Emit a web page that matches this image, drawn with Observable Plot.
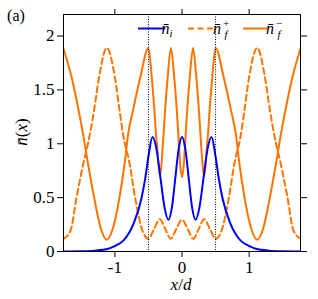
<!DOCTYPE html>
<html><head><meta charset="utf-8">
<script src="https://cdn.jsdelivr.net/npm/d3@7"></script>
<script src="https://cdn.jsdelivr.net/npm/@observablehq/plot@0.6"></script>
<style>html,body{margin:0;padding:0;background:#fff;overflow:hidden}</style>
</head><body><div id="chart"></div>
<script>
// ---- data ----
const xTicks = [-1, 0, 1];
const yTicks = [0, 0.5, 1, 1.5, 2];
const wellEdges = [-0.5, 0.5];

// n̄_i (blue)
const niX = [-1.768,-1.5,-1.3,-1.1,-1.02,-0.94,-0.86,-0.72,-0.605,-0.55,-0.5,-0.44,-0.38,-0.32,-0.26,-0.203,-0.15,-0.10,-0.05,0,
             0.05,0.10,0.15,0.203,0.26,0.32,0.38,0.44,0.5,0.55,0.605,0.72,0.86,0.94,1.02,1.1,1.3,1.5,1.768];
const niY = [0.001,0.003,0.008,0.025,0.045,0.07,0.11,0.26,0.49,0.67,0.88,1.062,0.95,0.68,0.41,0.295,0.41,0.68,0.95,1.062,
             0.95,0.68,0.41,0.295,0.41,0.68,0.95,1.062,0.88,0.67,0.49,0.26,0.11,0.07,0.045,0.025,0.008,0.003,0.001];

// n̄_f^+ (orange dashed)
const fPlusX = [-1.768,-1.66,-1.57,-1.47,-1.375,-1.31,-1.235,-1.12,-1.0,-0.93,-0.875,-0.78,-0.70,-0.59,-0.5,
                -0.415,-0.33,-0.25,-0.168,-0.085,0,0.085,0.168,0.25,0.33,0.415,
                0.5,0.59,0.70,0.78,0.875,0.93,1.0,1.12,1.235,1.31,1.375,1.47,1.57,1.66,1.768];
const fPlusY = [0.118,0.195,0.505,0.815,1.078,1.31,1.619,1.89,1.619,1.31,1.078,0.815,0.505,0.195,0.118,
                0.21,0.30,0.21,0.118,0.21,0.294,0.21,0.118,0.21,0.30,0.21,
                0.118,0.195,0.505,0.815,1.078,1.31,1.619,1.89,1.619,1.31,1.078,0.815,0.505,0.195,0.118];

// n̄_f^- (orange solid)
const fMinusX = [-1.768,-1.645,-1.54,-1.47,-1.40,-1.31,-1.20,-1.12,-1.04,-0.93,-0.855,-0.805,-0.73,-0.62,-0.5,
                 -0.451,-0.411,-0.386,-0.37,-0.352,-0.33,-0.305,-0.276,-0.252,-0.213,-0.165,-0.116,-0.077,-0.054,-0.028,0,
                 0.028,0.054,0.077,0.116,0.165,0.213,0.252,0.276,0.305,0.33,0.352,0.37,0.386,0.411,0.451,
                 0.5,0.62,0.73,0.805,0.855,0.93,1.04,1.12,1.20,1.31,1.40,1.47,1.54,1.645,1.768];
const fMinusY = [1.89,1.619,1.31,1.078,0.815,0.505,0.195,0.109,0.195,0.505,0.815,1.078,1.31,1.619,1.89,
                 1.619,1.31,1.078,0.97,0.815,0.70,0.815,1.078,1.31,1.619,1.89,1.619,1.31,1.078,0.815,0.69,
                 0.815,1.078,1.31,1.619,1.89,1.619,1.31,1.078,0.815,0.70,0.815,0.97,1.078,1.31,1.619,
                 1.89,1.619,1.31,1.078,0.815,0.505,0.195,0.109,0.195,0.505,0.815,1.078,1.31,1.619,1.89];

const legendLabels = ["i", "+", "\u2212"];
// ---------------------------------------

const BLUE = "#0000ff", ORANGE = "#ff7400";
const rows = (xs, ys) => xs.map((x, i) => ({x, y: ys[i]}));
const ni = rows(niX, niY), fPlus = rows(fPlusX, fPlusY), fMinus = rows(fMinusX, fMinusY);
const FONT = "Liberation Serif";

const plot = Plot.plot({
  width: 318, height: 299,
  marginLeft: 63, marginRight: 18, marginTop: 14, marginBottom: 48,
  style: {fontFamily: FONT, fontSize: "17px", background: "white", color: "black"},
  x: {domain: [-1.765, 1.765], ticks: xTicks},
  y: {domain: [0, 2.2], ticks: yTicks},
  marks: [
    Plot.line(fPlus, {x: "x", y: "y", stroke: ORANGE, strokeWidth: 2, strokeDasharray: "6,3.5", curve: "monotone-x", clip: true}),
    Plot.line(fMinus, {x: "x", y: "y", stroke: ORANGE, strokeWidth: 2, curve: "monotone-x", clip: true}),
    Plot.line(ni, {x: "x", y: "y", stroke: BLUE, strokeWidth: 2, curve: "monotone-x", clip: true}),
    Plot.ruleX(wellEdges, {stroke: "black", strokeWidth: 1, strokeDasharray: "1,1.5"}),
    Plot.axisX({anchor: "bottom", ticks: xTicks, tickSize: 6, tickPadding: 3, label: null,
                tickFormat: d => d < 0 ? "-" + (-d) : String(d), fontSize: 17}),
    Plot.axisX({anchor: "top", ticks: xTicks, tickSize: 6, label: null, tickFormat: () => ""}),
    Plot.axisY({anchor: "left", ticks: yTicks, tickSize: 6, tickPadding: 3, label: null, tickFormat: d => String(d), fontSize: 17}),
    Plot.axisY({anchor: "right", ticks: yTicks, tickSize: 6, label: null, tickFormat: () => ""}),
    Plot.frame({stroke: "black", strokeWidth: 1})
  ]
});
document.getElementById("chart").appendChild(plot);

const svg = d3.select(plot);
const g = svg.append("g").attr("fill", "black").attr("font-family", FONT);

// panel label
g.append("text").attr("x", 16).attr("y", 21).attr("font-size", 16).text("(a)");

// x label
const xl = g.append("text").attr("x", 181).attr("y", 290).attr("text-anchor", "middle").attr("font-size", 17);
xl.append("tspan").attr("font-style", "italic").text("x");
xl.append("tspan").text("/");
xl.append("tspan").attr("font-style", "italic").text("d");

// y label
const yl = g.append("text").attr("transform", "translate(27,132) rotate(-90)").attr("text-anchor", "middle").attr("font-size", 17);
yl.append("tspan").attr("font-style", "italic").text("n\u0304");
yl.append("tspan").text("(");
yl.append("tspan").attr("font-style", "italic").text("x");
yl.append("tspan").text(")");

// legend
const ly = 28.5;
const items = [
  {x0: 138, x1: 165, tx: 167, color: BLUE, dash: null, lab: legendLabels[0]},
  {x0: 188, x1: 215, tx: 217, color: ORANGE, dash: "6,3.5", lab: legendLabels[1]},
  {x0: 243, x1: 268, tx: 270, color: ORANGE, dash: null, lab: legendLabels[2]}
];
items.forEach((it, k) => {
  g.append("line").attr("x1", it.x0).attr("x2", it.x1).attr("y1", ly).attr("y2", ly)
    .attr("stroke", it.color).attr("stroke-width", 2).attr("stroke-dasharray", it.dash);
  const t = g.append("text").attr("x", it.tx).attr("y", ly + 5).attr("font-size", 16).attr("font-style", "italic");
  t.append("tspan").text("n\u0304");
  if (k === 0) {
    t.append("tspan").attr("font-size", 11).attr("dy", 3).text(it.lab);
  } else {
    t.append("tspan").attr("x", it.tx + 9).attr("dy", -7).attr("font-size", 11).attr("font-style", "normal").text(it.lab);
    t.append("tspan").attr("x", it.tx + 9).attr("dy", 11).attr("font-size", 11).text("f");
  }
});
</script>
</body></html>
